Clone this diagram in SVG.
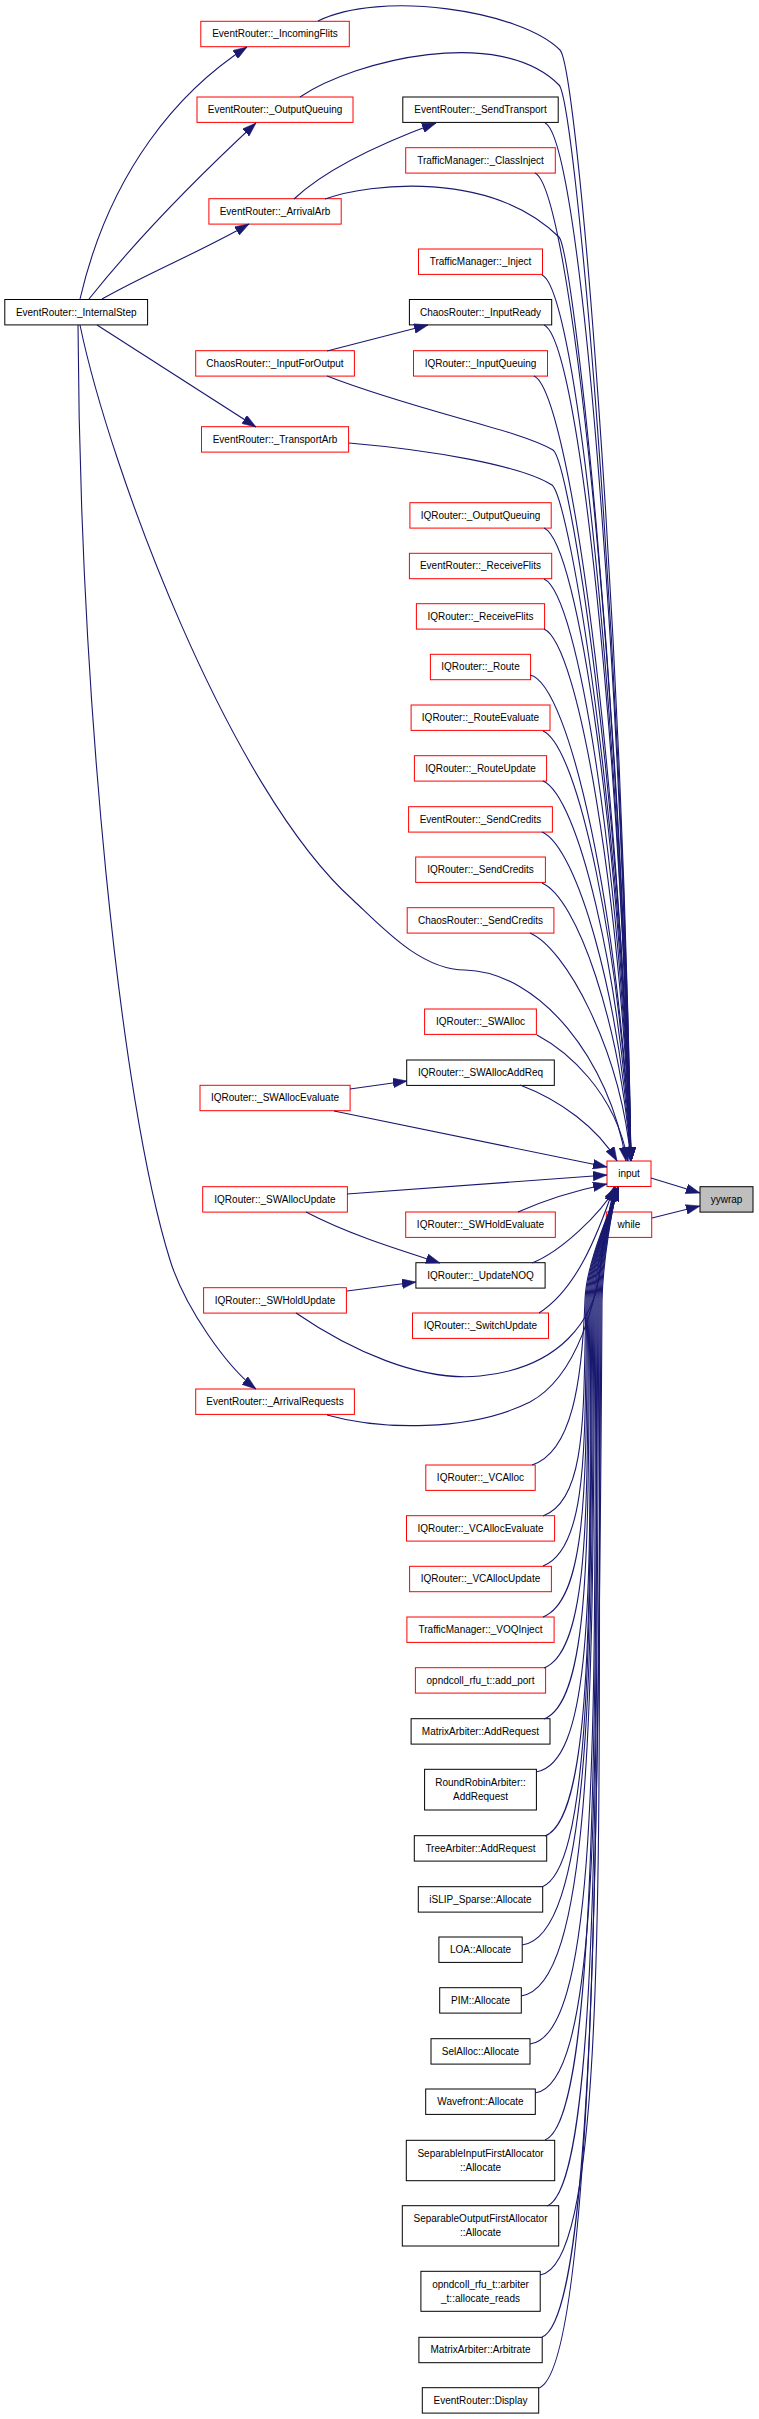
<svg xmlns="http://www.w3.org/2000/svg" width="759" height="2419" viewBox="0 0 759 2419">
<style>
rect{fill:#fff;stroke:#f00;stroke-width:1}
.b rect{stroke:#000}
.g rect{fill:#bfbfbf;stroke:#000}
text{font-family:"Liberation Sans",Arial,Helvetica,sans-serif;font-size:10px;text-anchor:middle;fill:#000}
#edges path{fill:none;stroke:#191970;stroke-width:1.1;marker-end:url(#ah)}
</style>
<defs>
<marker id="ah" markerUnits="userSpaceOnUse" markerWidth="14" markerHeight="10" viewBox="0 0 13 9" refX="13" refY="4.5" orient="auto"><path d="M0,0 L13,4.5 L0,9 z" fill="#191970" stroke="#191970" stroke-width="0.5"/></marker>
</defs>
<rect x="0" y="0" width="759" height="2419" style="fill:#fff;stroke:none"/>
<!-- left column -->
<g id="n_IncomingFlits"><rect x="200.8" y="21.3" width="148.5" height="25.4"/><text x="275" y="37.3">EventRouter::_IncomingFlits</text></g>
<g id="n_OutputQueuing"><rect x="197" y="97" width="156" height="25.4"/><text x="275" y="113">EventRouter::_OutputQueuing</text></g>
<g id="n_ArrivalArb"><rect x="208.9" y="198.7" width="132.3" height="25.4"/><text x="275" y="214.7">EventRouter::_ArrivalArb</text></g>
<g id="n_InternalStep" class="b"><rect x="4.8" y="299.5" width="142.8" height="25.4"/><text x="76.2" y="315.5">EventRouter::_InternalStep</text></g>
<g id="n_InputForOutput"><rect x="195.7" y="350.7" width="158.7" height="25.4"/><text x="275" y="366.7">ChaosRouter::_InputForOutput</text></g>
<g id="n_TransportArb"><rect x="201.5" y="426.7" width="147.1" height="25.4"/><text x="275" y="442.7">EventRouter::_TransportArb</text></g>
<g id="n_SWAllocEvaluate"><rect x="200" y="1085.3" width="150.1" height="25.4"/><text x="275" y="1101.3">IQRouter::_SWAllocEvaluate</text></g>
<g id="n_SWAllocUpdate"><rect x="202.7" y="1186.7" width="144.7" height="25.4"/><text x="275" y="1202.7">IQRouter::_SWAllocUpdate</text></g>
<g id="n_SWHoldUpdate"><rect x="203.6" y="1287.7" width="142.8" height="25.4"/><text x="275" y="1303.7">IQRouter::_SWHoldUpdate</text></g>
<g id="n_ArrivalRequests"><rect x="195.7" y="1389" width="158.7" height="25.4"/><text x="275" y="1405">EventRouter::_ArrivalRequests</text></g>
<!-- right column -->
<g id="n_SendTransport" class="b"><rect x="402.8" y="97" width="155.4" height="25.4"/><text x="480.5" y="113">EventRouter::_SendTransport</text></g>
<g id="n_ClassInject"><rect x="405.7" y="147.7" width="149.6" height="25.4"/><text x="480.5" y="163.7">TrafficManager::_ClassInject</text></g>
<g id="n_Inject"><rect x="418.5" y="249" width="124" height="25.4"/><text x="480.5" y="265">TrafficManager::_Inject</text></g>
<g id="n_InputReady" class="b"><rect x="409.4" y="299.5" width="142.3" height="25.4"/><text x="480.5" y="315.5">ChaosRouter::_InputReady</text></g>
<g id="n_InputQueuing"><rect x="413.5" y="350.7" width="134" height="25.4"/><text x="480.5" y="366.7">IQRouter::_InputQueuing</text></g>
<g id="n_IQOutputQueuing"><rect x="409.9" y="502.7" width="141.3" height="25.4"/><text x="480.5" y="518.7">IQRouter::_OutputQueuing</text></g>
<g id="n_ERReceiveFlits"><rect x="409.4" y="553.3" width="142.3" height="25.4"/><text x="480.5" y="569.3">EventRouter::_ReceiveFlits</text></g>
<g id="n_IQReceiveFlits"><rect x="416.4" y="603.7" width="128.2" height="25.4"/><text x="480.5" y="619.7">IQRouter::_ReceiveFlits</text></g>
<g id="n_Route"><rect x="430.4" y="654.3" width="100.2" height="25.4"/><text x="480.5" y="670.3">IQRouter::_Route</text></g>
<g id="n_RouteEvaluate"><rect x="411.1" y="705" width="138.9" height="25.4"/><text x="480.5" y="721">IQRouter::_RouteEvaluate</text></g>
<g id="n_RouteUpdate"><rect x="414.4" y="755.7" width="132.2" height="25.4"/><text x="480.5" y="771.7">IQRouter::_RouteUpdate</text></g>
<g id="n_ERSendCredits"><rect x="408.6" y="806.7" width="143.8" height="25.4"/><text x="480.5" y="822.7">EventRouter::_SendCredits</text></g>
<g id="n_IQSendCredits"><rect x="415.7" y="857" width="129.7" height="25.4"/><text x="480.5" y="873">IQRouter::_SendCredits</text></g>
<g id="n_ChaosSendCredits"><rect x="407.2" y="907.7" width="146.7" height="25.4"/><text x="480.5" y="923.7">ChaosRouter::_SendCredits</text></g>
<g id="n_SWAlloc"><rect x="424.6" y="1009" width="111.8" height="25.4"/><text x="480.5" y="1025">IQRouter::_SWAlloc</text></g>
<g id="n_SWAllocAddReq" class="b"><rect x="406.7" y="1060" width="147.6" height="25.4"/><text x="480.5" y="1076">IQRouter::_SWAllocAddReq</text></g>
<g id="n_SWHoldEvaluate"><rect x="405.7" y="1212" width="149.6" height="25.4"/><text x="480.5" y="1228">IQRouter::_SWHoldEvaluate</text></g>
<g id="n_UpdateNOQ" class="b"><rect x="415.9" y="1262.7" width="129.2" height="25.4"/><text x="480.5" y="1278.7">IQRouter::_UpdateNOQ</text></g>
<g id="n_SwitchUpdate"><rect x="412.5" y="1313" width="136" height="25.4"/><text x="480.5" y="1329">IQRouter::_SwitchUpdate</text></g>
<g id="n_VCAlloc"><rect x="425.8" y="1465" width="109.4" height="25.4"/><text x="480.5" y="1481">IQRouter::_VCAlloc</text></g>
<g id="n_VCAllocEvaluate"><rect x="406.5" y="1515.7" width="148.1" height="25.4"/><text x="480.5" y="1531.7">IQRouter::_VCAllocEvaluate</text></g>
<g id="n_VCAllocUpdate"><rect x="409.6" y="1566.3" width="141.8" height="25.4"/><text x="480.5" y="1582.3">IQRouter::_VCAllocUpdate</text></g>
<g id="n_VOQInject"><rect x="406.9" y="1617" width="147.2" height="25.4"/><text x="480.5" y="1633">TrafficManager::_VOQInject</text></g>
<g id="n_add_port"><rect x="415.4" y="1667.7" width="130.2" height="25.4"/><text x="480.5" y="1683.7">opndcoll_rfu_t::add_port</text></g>
<g id="n_MatrixAddRequest" class="b"><rect x="411.1" y="1718.7" width="138.9" height="25.4"/><text x="480.5" y="1734.7">MatrixArbiter::AddRequest</text></g>
<g id="n_RoundRobinAddRequest" class="b"><rect x="424.6" y="1769.3" width="111.8" height="40.7"/><text x="480.5" y="1785.8">RoundRobinArbiter::</text><text x="480.5" y="1799.8">AddRequest</text></g>
<g id="n_TreeAddRequest" class="b"><rect x="414.3" y="1835.7" width="132.4" height="25.4"/><text x="480.5" y="1851.7">TreeArbiter::AddRequest</text></g>
<g id="n_iSLIP" class="b"><rect x="418.3" y="1886.7" width="124.4" height="25.4"/><text x="480.5" y="1902.7">iSLIP_Sparse::Allocate</text></g>
<g id="n_LOA" class="b"><rect x="438.9" y="1937" width="83.3" height="25.4"/><text x="480.5" y="1953">LOA::Allocate</text></g>
<g id="n_PIM" class="b"><rect x="439.7" y="1987.7" width="81.6" height="25.4"/><text x="480.5" y="2003.7">PIM::Allocate</text></g>
<g id="n_SelAlloc" class="b"><rect x="431" y="2038.7" width="99" height="25.4"/><text x="480.5" y="2054.7">SelAlloc::Allocate</text></g>
<g id="n_Wavefront" class="b"><rect x="425.7" y="2089" width="109.6" height="25.4"/><text x="480.5" y="2105">Wavefront::Allocate</text></g>
<g id="n_SepInput" class="b"><rect x="406.3" y="2140.3" width="148.4" height="40.4"/><text x="480.5" y="2156.7">SeparableInputFirstAllocator</text><text x="480.5" y="2170.7">::Allocate</text></g>
<g id="n_SepOutput" class="b"><rect x="402.3" y="2205.7" width="156.4" height="40.3"/><text x="480.5" y="2222.1">SeparableOutputFirstAllocator</text><text x="480.5" y="2236.1">::Allocate</text></g>
<g id="n_allocate_reads" class="b"><rect x="420.9" y="2271.3" width="119.3" height="40"/><text x="480.5" y="2287.6">opndcoll_rfu_t::arbiter</text><text x="480.5" y="2301.6">_t::allocate_reads</text></g>
<g id="n_MatrixArbitrate" class="b"><rect x="418.9" y="2337.3" width="123.3" height="25.4"/><text x="480.5" y="2353.3">MatrixArbiter::Arbitrate</text></g>
<g id="n_Display" class="b"><rect x="422.3" y="2387.7" width="116.4" height="25.4"/><text x="480.5" y="2403.7">EventRouter::Display</text></g>
<!-- input / while / yywrap -->
<g id="n_input"><rect x="607" y="1161" width="44" height="25.5"/><text x="629" y="1177.3">input</text></g>
<g id="n_while"><rect x="606.3" y="1212" width="45.4" height="25.4"/><text x="629" y="1228">while</text></g>
<g id="n_yywrap" class="g"><rect x="700" y="1186.7" width="53" height="25.4"/><text x="726.5" y="1202.7">yywrap</text></g>
<g id="edges">
<path d="M318,21 C380,-10 520,10 560,50 C577,67 622,605 631,1161"/>
<path d="M300,97 C355,60 500,25 559,85 C575,101 622,630 631,1161"/>
<path d="M325,199 C370,183 490,170 559,237 C573,252 622,700 631,1161"/>
<path d="M327,376 C420,412 520,430 553,450 C570,462 622,800 631,1161"/>
<path d="M349,443 C430,450 520,465 552,485 C570,500 622,820 631,1161"/>
<path d="M80,325 C110,470 230,790 353,900 C380,925 420,970 465,970 C540,972 610,1060 626,1161"/>
<path d="M520,1085 C560,1100 598,1128 617,1161"/>
<path d="M334,1111 L607,1167"/>
<path d="M347,1194 L607,1175"/>
<path d="M518,1212 C545,1200 578,1190 607,1184"/>
<path d="M532,1263 C560,1252 600,1215 616,1187"/>
<path d="M539,1313 C575,1290 596,1240 614,1187"/>
<path d="M296,1313 C350,1350 420,1382 480,1376 C560,1368 595,1320 600,1270 C604,1230 610,1205 615,1187"/>
<path d="M327,1415 C380,1430 470,1432 530,1402 C578,1376 597,1300 604,1245 C607,1220 611,1203 615,1187"/>
<path d="M545,123 C580,138 620,642 631,1161"/>
<path d="M535,173 C570,188 620,667 631,1161"/>
<path d="M542,275 C577,290 620,718 631,1161"/>
<path d="M544,325 C579,340 620,743 631,1161"/>
<path d="M534,376 C569,391 620,768 631,1161"/>
<path d="M544,528 C579,543 620,845 631,1161"/>
<path d="M544,579 C579,594 620,870 631,1161"/>
<path d="M544,629 C579,644 620,895 631,1161"/>
<path d="M530,675 C570,683 620,918 631,1161"/>
<path d="M543,731 C578,746 620,946 631,1161"/>
<path d="M543,781 C578,796 620,971 631,1161"/>
<path d="M542,832 C577,847 620,996 631,1161"/>
<path d="M542,883 C577,898 620,1022 631,1161"/>
<path d="M530,933 C565,948 620,1047 631,1161"/>
<path d="M537,1035 C565,1050 615,1090 628,1161"/>
<path d="M532,1465 C572,1452 582,1382 585,1300 C586,1262 612,1207 618,1187"/>
<path d="M543,1516 C588,1500 583,1408 586,1300 C587,1262 612,1207 618,1187"/>
<path d="M543,1566 C590,1548 584,1433 587,1300 C588,1262 612,1207 618,1187"/>
<path d="M543,1617 C591,1598 585,1458 588,1300 C589,1262 612,1207 618,1187"/>
<path d="M544,1668 C593,1649 586,1484 589,1300 C590,1262 612,1207 618,1187"/>
<path d="M544,1719 C594,1700 587,1510 590,1300 C591,1262 612,1207 618,1187"/>
<path d="M536,1772 C600,1762 588,1536 591,1300 C592,1262 612,1207 618,1187"/>
<path d="M545,1836 C596,1816 589,1568 592,1300 C593,1262 612,1207 618,1187"/>
<path d="M542,1887 C594,1867 590,1594 593,1300 C594,1262 612,1207 618,1187"/>
<path d="M522,1945 C597,1935 591,1622 594,1300 C595,1262 612,1207 618,1187"/>
<path d="M521,1996 C597,1986 592,1648 595,1300 C596,1262 612,1207 618,1187"/>
<path d="M530,2044 C604,2034 593,1672 596,1300 C597,1262 612,1207 618,1187"/>
<path d="M535,2093 C608,2083 594,1696 597,1300 C598,1262 612,1207 618,1187"/>
<path d="M545,2140 C597,2120 595,1720 598,1300 C599,1262 612,1207 618,1187"/>
<path d="M547,2206 C600,2186 596,1753 599,1300 C600,1262 612,1207 618,1187"/>
<path d="M540,2275 C612,2265 597,1787 600,1300 C601,1262 612,1207 618,1187"/>
<path d="M542,2337 C596,2317 598,1818 601,1300 C602,1262 612,1207 618,1187"/>
<path d="M539,2388 C592,2368 599,1844 602,1300 C603,1262 612,1207 618,1187"/>
<path d="M651,1178 L700,1193"/>
<path d="M652,1218 L700,1206"/>
<path d="M80,299 C110,170 180,90 247,47"/>
<path d="M89,299 C140,235 200,175 256,123"/>
<path d="M102,299 C150,272 200,252 249,224"/>
<path d="M294,199 C330,165 390,140 436,123"/>
<path d="M327,351 L428,325"/>
<path d="M97,325 L256,427"/>
<path d="M78,325 C80,700 120,1100 170,1260 C185,1308 227,1367 256,1389"/>
<path d="M350,1089 L407,1081"/>
<path d="M306,1212 C350,1235 400,1250 440,1263"/>
<path d="M347,1291 L416,1282"/>
</g>
</svg>
